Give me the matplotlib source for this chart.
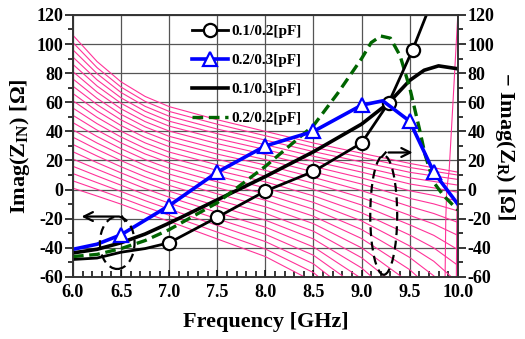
import matplotlib.pyplot as plt
from matplotlib.patches import Ellipse
from matplotlib.ticker import MultipleLocator

plt.rcParams['font.family'] = ['Liberation Serif', 'DejaVu Serif']
plt.rcParams['font.weight'] = 'bold'
plt.rcParams['mathtext.fontset'] = 'custom'
plt.rcParams['mathtext.rm'] = 'Liberation Serif:bold'
plt.rcParams['mathtext.it'] = 'Liberation Serif:bold'
plt.rcParams['mathtext.bf'] = 'Liberation Serif:bold'
plt.rcParams['axes.unicode_minus'] = False

# 0.1/0.2 [pF]  (black, circles)
freq_a = [6.0, 6.25, 6.5, 6.75, 7.0, 7.5, 8.0, 8.5, 9.0, 9.28, 9.53, 9.68]
zin_a = [-48, -47, -43, -40.5, -36.5, -19, -1, 12.5, 32, 59.5, 96, 121]
marks_a = [4, 5, 6, 7, 8, 9, 10]

# 0.2/0.3 [pF]  (blue, triangles)
freq_b = [6.0, 6.25, 6.5, 7.0, 7.5, 8.0, 8.5, 9.0, 9.22, 9.5, 9.75, 10.0]
zin_b = [-41, -37.5, -31, -11, 12, 30, 40, 58, 61, 47, 12, -10]
marks_b = [2, 3, 4, 5, 6, 7, 9, 10]

# 0.1/0.3 [pF]  (black solid)
freq_c = [6.0, 6.25, 6.5, 6.75, 7.0, 7.5, 8.0, 8.5, 9.0, 9.28, 9.5, 9.65, 9.8, 10.0]
zin_c = [-43.5, -41, -36.5, -30.5, -23, -7, 9, 26, 45, 59.5, 75, 82, 85, 83]

# 0.2/0.2 [pF]  (green dashed)
freq_d = [6.0, 6.25, 6.5, 6.75, 7.0, 7.5, 8.0, 8.5, 8.75, 9.0, 9.1, 9.2, 9.3,
          9.4, 9.5, 9.6, 9.66, 9.75, 9.85, 10.0]
zin_d = [-46, -44.5, -40.5, -35, -27.5, -9, 16, 44, 66, 90, 101, 105.5, 104,
         92, 70, 42, 24, 5, -4, -14]

# -Imag(Z_R) family (pink)
pink_freq = [6.0, 6.25, 6.5, 6.75, 7.0, 7.5, 8.0, 8.5, 9.0, 9.5, 9.75, 10.0]
pink_curves = [
    [106, 88, 74, 64, 57, 48, 40, 32, 25, 18, 15, 12],
    [101, 83.8, 70.4, 60.6, 53.7, 44.9, 37.0, 29.1, 22.2, 15.2, 12.6, 10.0],
    [96, 79.7, 66.7, 57.2, 50.4, 41.6, 34.0, 26.1, 19.0, 11.9, 9.4, 7.0],
    [91, 75.4, 63.0, 53.8, 47.0, 38.4, 30.8, 22.9, 15.7, 8.1, 5.6, 3.1],
    [86, 71.2, 59.3, 50.3, 43.6, 35.0, 27.5, 19.5, 12.0, 3.9, 1.2, -1.8],
    [81, 67.0, 55.5, 46.7, 40.2, 31.6, 24.1, 15.9, 8.0, -0.8, -4.0, -7.8],
    [76, 62.7, 51.7, 43.1, 36.6, 28.0, 20.6, 12.2, 3.8, -6.0, -9.8, -14.6],
    [71, 58.4, 47.9, 39.5, 33.1, 24.4, 16.9, 8.4, -0.7, -11.6, -16.4, -22.5],
    [66, 54.0, 44.0, 35.8, 29.5, 20.8, 13.2, 4.3, -5.5, -17.7, -23.6, -31.4],
    [61, 49.7, 40.1, 32.1, 25.8, 17.0, 9.3, 0.1, -10.6, -24.2, -31.4, -41.2],
    [56, 45.3, 36.1, 28.3, 22.1, 13.2, 5.3, -4.3, -15.9, -31.2, -40.0, -52.0],
    [51, 40.9, 32.1, 24.5, 18.4, 9.3, 1.2, -8.8, -21.5, -38.7, -49.2, -63.8],
    [46, 36.5, 28.1, 20.6, 14.5, 5.3, -3.0, -13.5, -27.4, -46.6, -59.2, -76.6],
    [41, 32.0, 24.0, 16.7, 10.7, 1.3, -7.3, -18.3, -33.6, -55.0, -69.8, -90.3],
    [36, 27.6, 19.9, 12.8, 6.8, -2.9, -11.8, -23.4, -40.0, -63.9, -81.0, -105.0],
    [31, 23.1, 15.7, 8.8, 2.9, -7.1, -16.3, -28.6, -46.8, -73.2, -93.0, -120.8],
    [26, 18.5, 11.5, 4.8, -1.1, -11.3, -21.0, -33.9, -53.8, -83.0, -105.6, -137.4],
    [21, 14.0, 7.3, 0.7, -5.2, -15.7, -25.8, -39.4, -61.1, -93.3, -120, -155],
    [16, 9.4, 3.0, -3.4, -9.3, -20.1, -30.7, -45.1, -68.6, -105, -135, -170],
    [11, 4.8, -1.3, -7.6, -13.4, -24.6, -35.7, -51.0, -76.5, -115, -145, -180],
    [6, 0.2, -5.6, -11.8, -17.6, -29.2, -40.8, -57.0, -84.6, -125, -155, -190],
    [1, -4.4, -10.0, -16.1, -21.8, -33.9, -46.0, -63.2, -93.0, -135, -165, -200],
]
steep_freq_1 = [9.868, 9.875, 9.885, 9.91, 9.95, 10.0]
steep_val_1 = [-60, -20, 0, 13, 60, 120]
steep_freq_2 = [9.985, 9.99, 10.0]
steep_val_2 = [-60, -20, 10]

labels = ['0.1/0.2[pF]', '0.2/0.3[pF]', '0.1/0.3[pF]', '0.2/0.2[pF]']
pink = '#ff3399'

fig = plt.figure(figsize=(5.25, 3.39), dpi=100)
ax = fig.add_axes([0.139, 0.183, 0.733, 0.773])

for row in pink_curves:
    ax.plot(pink_freq, row, color=pink, lw=0.8, zorder=2)
ax.plot(steep_freq_1, steep_val_1, color=pink, lw=0.8, zorder=2)
ax.plot(steep_freq_2, steep_val_2, color=pink, lw=0.8, zorder=2)

ax.plot(freq_a, zin_a, color='black', lw=2.0, marker='o', ms=9.5, mfc='white',
        mec='black', mew=1.6, markevery=marks_a, label=labels[0], zorder=5)
ax.plot(freq_b, zin_b, color='blue', lw=2.6, marker='^', ms=10, mfc='white',
        mec='blue', mew=1.6, markevery=marks_b, label=labels[1], zorder=5)
ax.plot(freq_c, zin_c, color='black', lw=2.6, label=labels[2], zorder=4)
ax.plot(freq_d, zin_d, color='#006400', lw=2.4, ls=(0, (3.2, 1.7)),
        label=labels[3], zorder=4)

# ellipses and arrows
ax.add_patch(Ellipse((6.46, -36.5), 0.36, 36, fill=False, ec='black', lw=1.6,
                     ls=(0, (4, 2.5)), zorder=6))
ax.add_patch(Ellipse((9.23, -17.5), 0.28, 82, fill=False, ec='black', lw=1.6,
                     ls=(0, (4, 2.5)), zorder=6))
ax.annotate('', xy=(6.06, -18.5), xytext=(6.51, -18.5),
            arrowprops=dict(arrowstyle='->', lw=1.6, color='black', mutation_scale=16),
            zorder=6)
ax.plot([6.51, 6.54], [-18.5, -21.5], color='black', lw=1.6, zorder=6)
ax.annotate('', xy=(9.56, 25.5), xytext=(9.25, 25.5),
            arrowprops=dict(arrowstyle='->', lw=1.6, color='black', mutation_scale=16),
            zorder=6)
ax.plot([9.21, 9.25], [22.5, 25.5], color='black', lw=1.6, zorder=6)

ax.set_xlim(6.0, 10.0)
ax.set_ylim(-60, 120)
ax.xaxis.set_major_locator(MultipleLocator(0.5))
ax.xaxis.set_minor_locator(MultipleLocator(0.1))
ax.yaxis.set_major_locator(MultipleLocator(20))
ax.yaxis.set_minor_locator(MultipleLocator(10))
ax.xaxis.set_major_formatter(plt.FormatStrFormatter('%.1f'))
ax.grid(True, which='major', color='#555555', lw=0.9)
ax.set_axisbelow(True)

ax.tick_params(axis='x', which='both', direction='in', top=False, width=1.1,
               labelsize=13, pad=5)
ax.tick_params(axis='x', which='major', length=5)
ax.tick_params(axis='x', which='minor', length=4)
ax.tick_params(axis='y', which='major', direction='out', length=6, width=1.1,
               labelsize=13, pad=1)
ax.tick_params(axis='y', which='minor', direction='out', length=3.5, width=1.1)
for s in ax.spines.values():
    s.set_linewidth(1.2)
    s.set_color('#333333')

ax2 = ax.twinx()
ax2.set_ylim(-60, 120)
ax2.yaxis.set_major_locator(MultipleLocator(20))
ax2.yaxis.set_minor_locator(MultipleLocator(10))
ax2.tick_params(axis='y', which='major', direction='out', length=6, width=1.1,
                labelsize=13, pad=1)
ax2.tick_params(axis='y', which='minor', direction='out', length=3.5, width=1.1)
for s in ax2.spines.values():
    s.set_linewidth(1.2)
    s.set_color('#333333')

ax.set_xlabel('Frequency [GHz]', fontsize=16, fontweight='bold', labelpad=8)
ax.set_ylabel('Imag(Z$_{\\mathrm{IN}}$) [\u03a9]', fontsize=16, fontweight='bold',
              labelpad=3)
ax2.set_ylabel('\u2212 Imag(Z$_{\\mathrm{R}}$) [\u03a9]', fontsize=16,
               fontweight='bold', rotation=270, labelpad=16)

ax.legend(loc='upper left', bbox_to_anchor=(0.285, 0.998), frameon=False,
          fontsize=11, handlelength=2.4, labelspacing=1.0, handletextpad=0.2,
          borderaxespad=0.2, numpoints=1)

fig.savefig('out.png', dpi=100)
